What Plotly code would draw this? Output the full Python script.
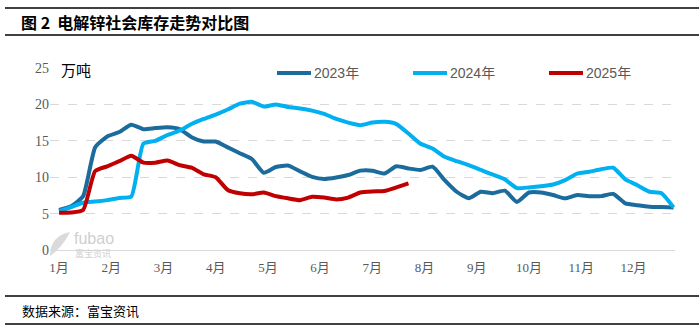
import plotly.graph_objects as go

# Weekly electrolytic zinc social inventory, 10k tonnes
weeks_per_year = 52
months = ["1月", "2月", "3月", "4月", "5月", "6月", "7月", "8月", "9月", "10月", "11月", "12月"]

inv_2023 = [5.5, 6.0, 7.4, 14.1, 15.6, 16.2, 17.2, 16.6, 16.75, 16.85,
            16.6, 15.5, 14.9, 14.9, 14.1, 13.3, 12.5, 10.6, 11.4, 11.6,
            10.8, 10.05, 9.75, 9.95, 10.3, 10.9, 10.9, 10.5, 11.5, 11.2,
            11.0, 11.45, 9.6, 8.0, 7.1, 8.0, 7.8, 8.15, 6.6, 7.9,
            7.9, 7.55, 7.1, 7.55, 7.4, 7.4, 7.7, 6.4, 6.15, 5.95,
            5.9, 5.85]
inv_2024 = [5.3, 5.9, 6.5, 6.65, 6.85, 7.15, 7.35, 14.6, 15.0, 15.8,
            16.4, 17.3, 18.0, 18.6, 19.3, 20.1, 20.35, 19.7, 20.0, 19.65,
            19.45, 19.15, 18.7, 18.0, 17.5, 17.15, 17.5, 17.6, 17.3, 16.0,
            14.6, 13.95, 12.8, 12.2, 11.65, 11.0, 10.35, 9.7, 8.5, 8.6,
            8.75, 9.0, 9.6, 10.5, 10.75, 11.1, 11.3, 9.7, 8.9, 8.0,
            7.8, 5.85]
inv_2025 = [5.1, 5.15, 5.5, 10.85, 11.5, 12.2, 12.95, 12.0, 12.0, 12.3,
            11.65, 11.3, 10.4, 10.0, 8.25, 7.8, 7.65, 7.9, 7.4, 7.1,
            6.85, 7.3, 7.2, 6.95, 7.2, 7.9, 8.05, 8.1, 8.6, 9.15]

series = [
    ("2023年", inv_2023, "#1B6C9C"),
    ("2024年", inv_2024, "#00B0F0"),
    ("2025年", inv_2025, "#C00000"),
]

W, H = 699, 327
L, R, T, B = 50, 24, 68, 77
pw, ph = W - L - R, H - T - B


def px_x(p):
    return (p - L) / pw


def px_y(p):
    return (H - B - p) / ph


fig = go.Figure()
for name, vals, color in series:
    fig.add_trace(go.Scatter(
        x=list(range(len(vals))), y=vals, name=name, mode="lines",
        line=dict(color=color, width=4, shape="spline", smoothing=0.5),
        hoverinfo="skip", showlegend=False,
    ))

tickvals = [i * weeks_per_year / 12 for i in range(12)]

fig.update_layout(
    width=W, height=H,
    margin=dict(l=L, r=R, t=T, b=B),
    paper_bgcolor="white", plot_bgcolor="white",
    showlegend=False,
    xaxis=dict(
        range=[-0.75, 51.12], tickmode="array", tickvals=tickvals, ticktext=months,
        showgrid=False, zeroline=False, showline=True, linecolor="#D9D9D9", linewidth=1,
        ticks="", ticklabelstandoff=5,
        tickfont=dict(family="Liberation Serif, Noto Sans CJK SC", size=13, color="#595959"),
    ),
    yaxis=dict(
        range=[0, 25], dtick=5, showgrid=True, gridcolor="#D9D9D9", griddash="dash",
        gridwidth=1, zeroline=False, showline=False, ticks="",
        tickfont=dict(family="Liberation Serif", size=14, color="#595959"),
    ),
)

# Rules framing the title band and the source band
shapes = []
for yy in (8, 35, 296, 324):
    shapes.append(dict(type="line", xref="paper", yref="paper",
                       x0=px_x(5), x1=px_x(699), y0=px_y(yy), y1=px_y(yy),
                       line=dict(color="black", width=1.5)))
# faint logo mark behind the origin
shapes.append(dict(type="path", xref="paper", yref="paper",
                   path="M {a},{b} Q {c},{d} {e},{f} Q {g},{h} {a},{b} Z".format(
                       a=px_x(50), b=px_y(256), c=px_x(50), d=px_y(236),
                       e=px_x(70), f=px_y(232), g=px_x(62), h=px_y(248)),
                   fillcolor="#DADADA", line=dict(width=0), layer="below"))

annotations = [
    dict(text="<b>图 2  电解锌社会库存走势对比图</b>", xref="paper", yref="paper",
         x=px_x(19), y=px_y(22), xanchor="left", yanchor="middle", showarrow=False,
         font=dict(family="Noto Sans CJK SC", size=16, color="black")),
    dict(text="数据来源：富宝资讯", xref="paper", yref="paper",
         x=px_x(20), y=px_y(310), xanchor="left", yanchor="middle", showarrow=False,
         font=dict(family="Noto Sans CJK SC", size=13, color="black")),
    dict(text="万吨", xref="paper", yref="paper",
         x=px_x(59), y=px_y(69), xanchor="left", yanchor="middle", showarrow=False,
         font=dict(family="Noto Sans CJK SC", size=15, color="black")),
    dict(text="fubao", xref="paper", yref="paper",
         x=px_x(72), y=px_y(238), xanchor="left", yanchor="middle", showarrow=False,
         font=dict(family="Liberation Sans", size=16, color="#CFCFCF")),
    dict(text="富宝资讯", xref="paper", yref="paper",
         x=px_x(73), y=px_y(253), xanchor="left", yanchor="middle", showarrow=False,
         font=dict(family="Noto Sans CJK SC", size=9, color="#CFCFCF")),
]

# Legend row: line swatch followed by the series name
legend_x = [277, 413, 549]
for (name, _, color), lx in zip(series, legend_x):
    shapes.append(dict(type="line", xref="paper", yref="paper",
                       x0=px_x(lx), x1=px_x(lx + 34), y0=px_y(73), y1=px_y(73),
                       line=dict(color=color, width=4)))
    annotations.append(dict(text=name, xref="paper", yref="paper",
                            x=px_x(lx + 35), y=px_y(73), xanchor="left", yanchor="middle",
                            showarrow=False,
                            font=dict(family="Liberation Sans, Noto Sans CJK SC", size=14,
                                      color="#595959")))

fig.update_layout(shapes=shapes, annotations=annotations)

fig.write_html("out.html")
